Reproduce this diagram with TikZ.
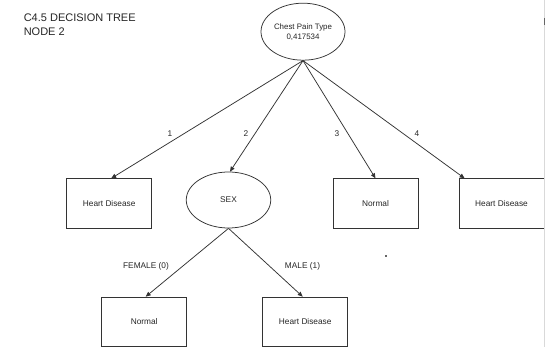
\documentclass[tikz,border=0pt]{standalone}
\usepackage{fontspec}
\setmainfont{Liberation Sans}
\usetikzlibrary{arrows.meta,shapes.geometric}
\begin{document}
\begin{tikzpicture}[x=1pt,y=-1pt,
  ln/.style={draw=black!80,line width=0.75pt},
  arr/.style={ln,-{Triangle[length=5pt,width=4.2pt]}},
  leaf/.style={ln,rectangle,minimum width=85pt,minimum height=49.5pt,inner sep=0pt,
    font=\fontsize{8.3}{10}\selectfont,text=black!85},
  dec/.style={ln,ellipse,inner sep=0pt,align=center,text=black!85},
  lbl/.style={inner sep=0pt,font=\fontsize{8.3}{10}\selectfont,text=black!85}]
\useasboundingbox (0,0) rectangle (545,347);
\clip (0,0) rectangle (545,347);
\fill[white] (0,0) rectangle (545,347);
% title
\node[inner sep=0pt,anchor=north west,align=left,text=black!85,
  font=\fontsize{11}{14.5}\selectfont] (title) at (23.6,13.3) {C4.5 DECISION TREE\\NODE 2};
% decision nodes
\node[dec,minimum width=84pt,minimum height=57pt,font=\fontsize{7.9}{10}\selectfont] (root) at (303,31.7) {Chest Pain Type\\0,417534};
\node[dec,minimum width=84.5pt,minimum height=56pt,font=\fontsize{8.3}{10}\selectfont] (sex) at (228.5,200) {SEX};
% leaves
\node[leaf] (hd1) at (109.2,203.5) {Heart Disease};
\node[leaf] (nm1) at (375.5,203.5) {Normal};
\node[leaf] (hd2) at (501.5,203.5) {Heart Disease};
\node[leaf] (nm2) at (144.2,321.8) {Normal};
\node[leaf] (hd3) at (305.2,321.8) {Heart Disease};
% connectors
\draw[arr] (root.south) -- ([xshift=2pt]hd1.north);
\draw[arr] (root.south) -- ([xshift=1.5pt]sex.north);
\draw[arr] (root.south) -- (nm1.north);
\draw[arr] (root.south) -- ([xshift=6pt]hd2.north west);
\draw[arr] (sex.south) -- ([xshift=1.5pt]nm2.north);
\draw[arr] (sex.south) -- ([xshift=-2.5pt]hd3.north);
% edge labels
\node[lbl] (l1) at (170,133.3) {1};
\node[lbl] (l2) at (246,133.3) {2};
\node[lbl] (l3) at (337,133.3) {3};
\node[lbl] (l4) at (417,133.3) {4};
\node[lbl] (lf) at (146,266) {FEMALE (0)};
\node[lbl] (lm) at (302.5,266) {MALE (1)};
% stray marks
\fill[black!60] (385,255) rectangle (387,257);
\draw[black!15,line width=0.8pt] (544.4,0) -- (544.4,347);
\draw[black!60,line width=0.8pt] (544.4,18) -- (544.4,25);
\end{tikzpicture}
\end{document}
